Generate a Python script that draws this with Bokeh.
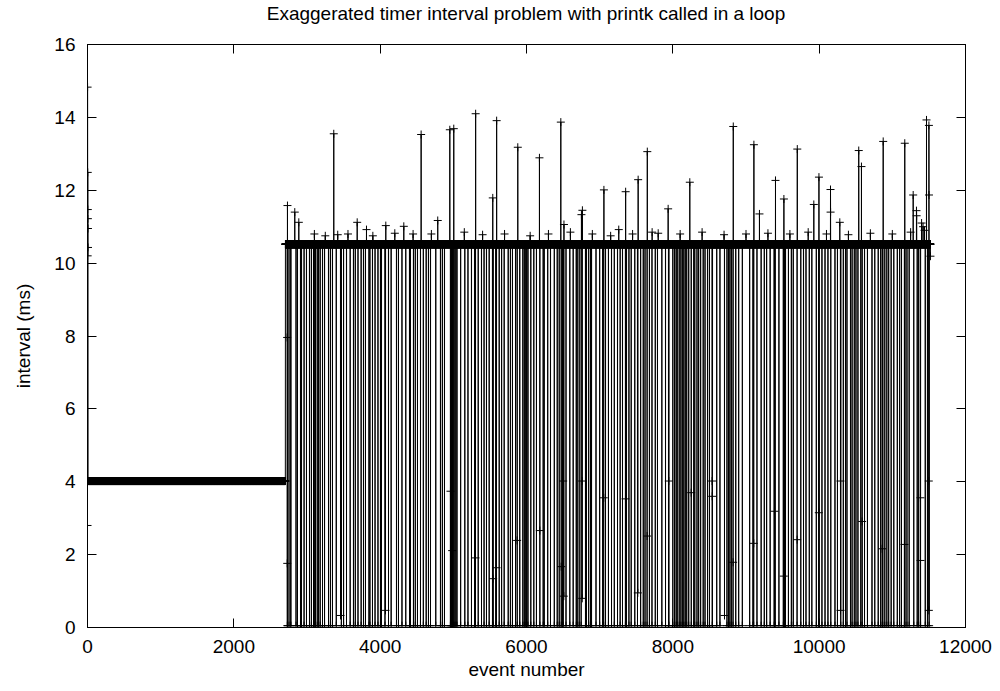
import numpy as np
from bokeh.plotting import figure
from bokeh.models import LinearAxis, Range1d, FixedTicker, Div
from bokeh.layouts import column
from bokeh.embed import file_html
from bokeh.resources import INLINE

# ---- data ----
n_events = 11522
start_burst = [2.8, 14.83, 10.2, 12.49, 11.47, 11.22, 10.95, 10.43]
phase1_level = 4.02
phase1_end = 2705
baseline_level = 10.52
drop_level = 0.05

drop_events = [
    2731, 2740, 2768, 2780, 2850, 2870, 2911, 2925, 2960, 2993, 3034, 3060, 3089,
    3100, 3116, 3140, 3157, 3180, 3212, 3240, 3294, 3320, 3348, 3400, 3470, 3500,
    3540, 3590, 3635, 3660, 3697, 3740, 3772, 3799, 3847, 3860, 3895, 3930, 3970,
    4004, 4018, 4066, 4114, 4150, 4223, 4250, 4298, 4350, 4401, 4414, 4455, 4480,
    4510, 4551, 4590, 4629, 4660, 4688, 4760, 4824, 4850, 4879, 4960, 4962, 4975,
    4985, 4990, 5000, 5020, 5035, 5050, 5100, 5157, 5200, 5248, 5290, 5302, 5340,
    5385, 5420, 5453, 5490, 5535, 5545, 5580, 5589, 5627, 5660, 5695, 5750, 5780,
    5808, 5850, 5873, 5908, 5950, 5970, 5990, 6003, 6020, 6059, 6100, 6136, 6183,
    6228, 6242, 6290, 6328, 6380, 6420, 6447, 6475, 6492, 6502, 6540, 6592, 6638,
    6680, 6693, 6720, 6747, 6806, 6820, 6850, 6875, 6889, 6950, 7000, 7041, 7055,
    7080, 7120, 7162, 7200, 7244, 7280, 7312, 7352, 7367, 7400, 7431, 7480, 7517,
    7560, 7596, 7620, 7648, 7680, 7715, 7760, 7790, 7850, 7900, 7941, 7946,
    8000, 8023, 8045, 8060, 8087, 8110, 8130, 8150, 8170, 8190, 8217, 8252, 8286,
    8300, 8330, 8353, 8380, 8415, 8440, 8474, 8500, 8539, 8542, 8600, 8644, 8740,
    8761, 8780, 8800, 8823, 8860, 8900, 8950, 9050, 9095, 9105, 9150, 9207, 9250,
    9282, 9330, 9385, 9390, 9399, 9450, 9510, 9515, 9526, 9540, 9580, 9620, 9646,
    9698, 9749, 9786, 9820, 9865, 9900, 9961, 9994, 10000, 10038, 10080, 10120,
    10159, 10216, 10250, 10295, 10330, 10360, 10380, 10428, 10450, 10480, 10503,
    10530, 10569, 10588, 10620, 10660, 10722, 10760, 10807, 10840, 10862, 10870,
    10897, 10925, 10950, 10984, 11020, 11068, 11100, 11125, 11165, 11173, 11200,
    11230, 11293, 11340, 11360, 11386, 11450, 11480, 11503,
]

partial_events = [
    2729, 2730, 3458, 4073, 4961, 4984, 5303, 5544, 5590, 5872, 6182, 6474, 6501,
    6510, 6761, 6762, 7056, 7353, 7521, 7649, 7945, 8251, 8537, 8538, 8706, 8824,
    9106, 9389, 9516, 9699, 9995, 10291, 10292, 10587, 10861, 11166, 11384, 11385,
    11498, 11499,
]
partial_values = [
    7.96, 1.76, 0.33, 0.47, 3.74, 2.11, 1.91, 1.34, 1.64, 2.39, 2.66, 1.67, 4.02,
    0.86, 4.02, 0.80, 3.56, 3.53, 0.95, 2.51, 4.02, 3.70, 4.02, 3.60, 0.33, 1.79,
    2.31, 3.19, 1.41, 2.41, 3.15, 4.02, 0.47, 2.91, 2.16, 2.28, 3.56, 1.84,
    4.02, 0.47,
]

spike_events = [
    2733, 2833, 2888, 3366, 3686, 3813, 4077, 4323, 4560, 4787, 4952, 5006, 5305,
    5539, 5592, 5881, 6177, 6469, 6512, 6751, 6764, 7058, 7261, 7355, 7526, 7651,
    7717, 7936, 8232, 8826, 9108, 9184, 9403, 9518, 9701, 9927, 9997, 10155, 10156,
    10282, 10541, 10578, 10875, 11170, 11285, 11330, 11332, 11467, 11500, 11501,
    11521,
    3101, 3250, 3420, 3560, 3900, 4200, 4450, 4700, 5150, 5400, 5700, 6050, 6300,
    6600, 6900, 7150, 7450, 7800, 8100, 8400, 8700, 9000, 9300, 9600, 9850, 10100,
    10400, 10700, 11000, 11250, 11400, 11420, 11440,
]
spike_values = [
    11.58, 11.40, 11.12, 13.55, 11.12, 10.92, 11.03, 11.01, 13.53, 11.17, 13.66,
    13.69, 14.10, 11.79, 13.91, 13.18, 12.89, 13.87, 11.06, 11.33, 11.45, 12.01,
    10.92, 11.96, 12.29, 13.06, 10.85, 11.49, 12.22, 13.75, 13.25, 11.35, 12.27,
    11.76, 13.13, 11.61, 12.36, 12.02, 11.40, 11.12, 13.09, 12.65, 13.34, 13.29,
    11.87, 11.44, 11.30, 13.93, 13.78, 11.87,
    10.19,
    10.80, 10.75, 10.78, 10.80, 10.75, 10.82, 10.80, 10.80, 10.85, 10.78, 10.80,
    10.75, 10.80, 10.85, 10.80, 10.75, 10.80, 10.82, 10.80, 10.85, 10.78, 10.80,
    10.82, 10.80, 10.85, 10.80, 10.78, 10.82, 10.80, 10.85, 11.10, 11.00, 10.90,
]

x_ticks = [0, 2000, 4000, 6000, 8000, 10000, 12000]
y_ticks = [0, 2, 4, 6, 8, 10, 12, 14, 16]

title_text = "Exaggerated timer interval problem with printk called in a loop"
x_label = "event number"
y_label = "interval (ms)"

# ---- assemble the series ----
vals = np.full(n_events, baseline_level)
vals[:phase1_end] = phase1_level
vals[:len(start_burst)] = start_burst
vals[drop_events] = drop_level
vals[partial_events] = partial_values
vals[spike_events] = spike_values
ev = np.arange(n_events)

FONT = "Liberation Sans"
FS = "19px"

p = figure(width=992, height=655, x_range=Range1d(0, 12000), y_range=Range1d(0, 16),
           output_backend="svg", toolbar_location=None,
           min_border_left=87, min_border_right=27, min_border_top=16, min_border_bottom=56)

p.grid.visible = False
p.outline_line_color = "black"
p.outline_line_width = 1
p.background_fill_color = "white"
p.border_fill_color = "white"

p.line(ev, vals, line_color="black", line_width=1)
p.scatter(ev, vals, marker="cross", size=8, line_color="black", line_width=1)

for ax, tk in ((p.xaxis[0], x_ticks), (p.yaxis[0], y_ticks)):
    ax.ticker = FixedTicker(ticks=tk)
    ax.major_tick_in = 9
    ax.major_tick_out = 0
    ax.major_tick_line_color = "black"
    ax.minor_tick_line_color = None
    ax.axis_line_color = "black"
    ax.major_label_text_font = FONT
    ax.major_label_text_font_size = FS
    ax.major_label_text_color = "black"
    ax.axis_label_text_font = FONT
    ax.axis_label_text_font_size = FS
    ax.axis_label_text_font_style = "normal"
    ax.axis_label_text_color = "black"

p.xaxis.axis_label = x_label
p.yaxis.axis_label = y_label
p.xaxis.major_label_standoff = 12
p.xaxis.axis_label_standoff = 3
p.yaxis.major_label_standoff = 12
p.yaxis.axis_label_standoff = 17

for loc, tk in (("right", y_ticks), ("above", x_ticks)):
    a = LinearAxis(ticker=FixedTicker(ticks=tk))
    a.major_tick_in = 9
    a.major_tick_out = 0
    a.major_tick_line_color = "black"
    a.minor_tick_line_color = None
    a.major_label_overrides = {t: "" for t in tk}
    a.major_label_text_font_size = "1px"
    a.major_label_standoff = 0
    a.axis_line_color = "black"
    p.add_layout(a, loc)

title_div = Div(text=title_text, width=878, height=28, margin=(0, 0, 0, 87),
                styles={"font-family": FONT, "font-size": FS, "line-height": "28px",
                        "text-align": "center", "color": "black",
                        "white-space": "nowrap"})

layout = column(title_div, p, spacing=0)
open("out.html", "w").write(file_html(layout, INLINE))
